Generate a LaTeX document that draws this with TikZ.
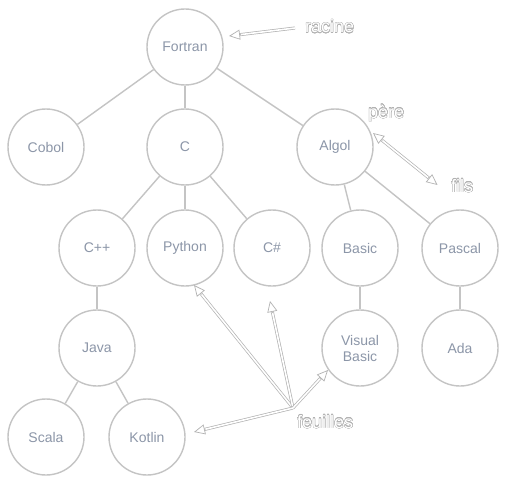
\documentclass[tikz,border=0pt]{standalone}
\usepackage{fontspec}
\setmainfont{Liberation Sans}
\usepackage[copies]{contour}
\contourlength{0.3pt}
\contournumber{16}
\usetikzlibrary{arrows.meta,calc}
\definecolor{edgegray}{RGB}{196,196,196}
\definecolor{txtgray}{RGB}{140,150,168}
\definecolor{lblgray}{RGB}{178,178,178}
\newcommand{\hollowtext}[1]{\contour{lblgray}{\textcolor{white}{#1}}}
\begin{document}
\begin{tikzpicture}[x=1pt,y=-1pt,
  lang/.style={circle, draw=edgegray, line width=1.4pt, minimum size=76pt, inner sep=0pt,
    text=txtgray, font=\fontsize{14}{16}\selectfont, align=center},
  link/.style={draw=edgegray, line width=1.4pt},
  shaft/.style={draw=lblgray, line width=0.7pt, double=white, double distance=1.6pt},
  headtip/.style={draw=lblgray, line width=0.7pt, -{Triangle[open, length=11pt, width=10pt, fill=white]}},
  lbl/.style={font=\fontsize{18}{20}\selectfont, inner sep=0pt, anchor=base west}]
\useasboundingbox[fill=white] (0,0) rectangle (516,484);
% nodes
\node[lang] (fortran) at (185,47) {Fortran};
\node[lang] (cobol) at (46,147) {Cobol};
\node[lang] (c) at (185,147) {C};
\node[lang] (algol) at (335,147) {Algol};
\node[lang] (cpp) at (97,248) {C++};
\node[lang] (python) at (185,248) {Python};
\node[lang] (csharp) at (272,248) {C\#};
\node[lang] (basic) at (360,248) {Basic};
\node[lang] (pascal) at (460,248) {Pascal};
\node[lang] (java) at (97,348) {Java};
\node[lang] (vb) at (360,348) {Visual\\Basic};
\node[lang] (ada) at (460,348) {Ada};
\node[lang] (scala) at (46,437) {Scala};
\node[lang] (kotlin) at (147,437) {Kotlin};
% tree edges
\draw[link] (fortran) -- (cobol);
\draw[link] (fortran) -- (c);
\draw[link] (fortran) -- (algol);
\draw[link] (c) -- (cpp);
\draw[link] (c) -- (python);
\draw[link] (c) -- (csharp);
\draw[link] (algol) -- (basic);
\draw[link] (algol) -- (pascal);
\draw[link] (cpp) -- (java);
\draw[link] (basic) -- (vb);
\draw[link] (pascal) -- (ada);
\draw[link] (java) -- (scala);
\draw[link] (java) -- (kotlin);
% labels
\node[lbl] (racine) at (305,33) {\hollowtext{racine}};
\node[lbl] (pere) at (368,118) {\hollowtext{père}};
\node[lbl] (fils) at (451,192) {\hollowtext{fils}};
\node[lbl] (feuilles) at (297,428) {\hollowtext{feuilles}};
% arrow coordinates
\coordinate (racineTail) at (295,28);
\coordinate (racineTip) at (229,36);
\coordinate (pereTip) at (373,133);
\coordinate (filsTip) at (437.5,185);
\coordinate (leafOrig) at (293,408);
\coordinate (pyTip) at (194,285);
\coordinate (csTip) at (270,301);
\coordinate (vbTip) at (328,370);
\coordinate (koTip) at (194,432);
% racine arrow
\draw[shaft] (racineTail) -- ($(racineTip)!5pt!(racineTail)$);
\draw[headtip] ($(racineTip)!12pt!(racineTail)$) -- (racineTip);
% pere/fils arrow
\draw[shaft] ($(pereTip)!5pt!(filsTip)$) -- ($(filsTip)!5pt!(pereTip)$);
\draw[headtip] ($(pereTip)!12pt!(filsTip)$) -- (pereTip);
\draw[headtip] ($(filsTip)!12pt!(pereTip)$) -- (filsTip);
% feuilles arrows
\foreach \t in {pyTip,csTip,vbTip,koTip}{
  \draw[shaft] (leafOrig) -- ($(\t)!5pt!(leafOrig)$);
}
\foreach \t in {pyTip,csTip,vbTip,koTip}{
  \draw[headtip] ($(\t)!12pt!(leafOrig)$) -- (\t);
}
\end{tikzpicture}
\end{document}
